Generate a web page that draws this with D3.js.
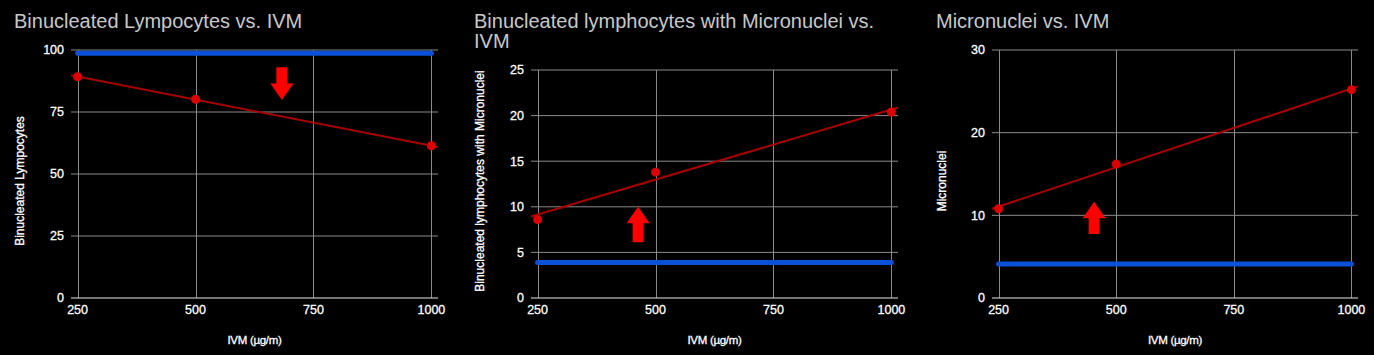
<!DOCTYPE html>
<html>
<head>
<meta charset="utf-8">
<script src="https://cdn.jsdelivr.net/npm/d3@7"></script>
<style>
  html, body { margin: 0; padding: 0; background: #000; }
  svg { display: block; }
  text { font-family: "Liberation Sans", Arial, sans-serif; }
</style>
</head>
<body>
<script>
// ---- data ----
const doses = [250, 500, 1000];
const xTicks = [250, 500, 750, 1000];

const titles = [
  ["Binucleated Lympocytes vs. IVM"],
  ["Binucleated lymphocytes with Micronuclei vs.", "IVM"],
  ["Micronuclei vs. IVM"]
];
const yLabels = ["Binucleated Lympocytes", "Binucleated lymphocytes with Micronuclei", "Micronuclei"];
const xLabel = "IVM (µg/m)";

const binucleated = [89.2, 80.1, 61.4];
const binucleatedControl = 98.7;
const bnMicronuclei = [8.6, 13.8, 20.4];
const bnMicronucleiControl = 3.9;
const micronuclei = [10.8, 16.2, 25.2];
const micronucleiControl = 4.1;

const yTicks1 = [0, 25, 50, 75, 100];
const yTicks2 = [0, 5, 10, 15, 20, 25];
const yTicks3 = [0, 10, 20, 30];

// arrow annotations (data units): x, from value, to value (tip)
const arrow1 = [683, 93, 79.8];
const arrow2 = [463, 6.1, 10.0];
const arrow3 = [453, 7.74, 11.65];

// ---- layout ----
const W = 1374, H = 355;
const panels = [
  { title: titles[0], ylab: yLabels[0], values: binucleated, control: binucleatedControl, yTicks: yTicks1, yMax: 100,
    xr: [71, 438], yTop: 50, titleX: 14, ylabX: 24, arrow: arrow1 },
  { title: titles[1], ylab: yLabels[1], values: bnMicronuclei, control: bnMicronucleiControl, yTicks: yTicks2, yMax: 25,
    xr: [531, 898], yTop: 70, titleX: 474, ylabX: 484, arrow: arrow2 },
  { title: titles[2], ylab: yLabels[2], values: micronuclei, control: micronucleiControl, yTicks: yTicks3, yMax: 30,
    xr: [992, 1358], yTop: 50, titleX: 936, ylabX: 946, arrow: arrow3 }
];
const yBottom = 298;
const xDomain = [236, 1014];

const svg = d3.select("body").append("svg").attr("width", W).attr("height", H);
svg.append("rect").attr("width", W).attr("height", H).attr("fill", "#000");

const defs = svg.append("defs");
defs.append("filter").attr("id", "soft").append("feGaussianBlur").attr("stdDeviation", 0.7);

function regression(xs, ys) {
  const n = xs.length;
  const mx = d3.mean(xs), my = d3.mean(ys);
  let sxy = 0, sxx = 0;
  for (let i = 0; i < n; i++) { sxy += (xs[i] - mx) * (ys[i] - my); sxx += (xs[i] - mx) ** 2; }
  const b = sxy / sxx;
  return x => my + b * (x - mx);
}

panels.forEach(p => {
  const g = svg.append("g");
  const x = d3.scaleLinear().domain(xDomain).range(p.xr);
  const y = d3.scaleLinear().domain([0, p.yMax]).range([yBottom, p.yTop]);

  // title
  const t = g.append("text").attr("x", p.titleX).attr("y", 28)
    .attr("fill", "#c8c8c8").attr("font-size", 20);
  p.title.forEach((line, i) => {
    t.append("tspan").attr("x", p.titleX).attr("dy", i === 0 ? 0 : 20).text(line);
  });

  // horizontal gridlines
  g.selectAll(".hg").data(p.yTicks.filter(v => v !== 0)).join("line")
    .attr("x1", p.xr[0]).attr("x2", p.xr[1])
    .attr("y1", d => y(d)).attr("y2", d => y(d))
    .attr("stroke", "#8a8a8a").attr("stroke-width", 1);
  // vertical gridlines
  g.selectAll(".vg").data(xTicks).join("line")
    .attr("x1", d => Math.round(x(d)) + 0.5).attr("x2", d => Math.round(x(d)) + 0.5)
    .attr("y1", y(p.yMax)).attr("y2", yBottom)
    .attr("stroke", "#8a8a8a").attr("stroke-width", 1);
  // baseline
  g.append("line").attr("x1", p.xr[0]).attr("x2", p.xr[1])
    .attr("y1", y(0)).attr("y2", y(0)).attr("stroke", "#e6e6e6").attr("stroke-width", 1.2);

  // y tick labels
  g.selectAll(".yt").data(p.yTicks).join("text")
    .attr("x", p.xr[0] - 7).attr("y", d => y(d)).attr("dy", "0.35em")
    .attr("text-anchor", "end").attr("fill", "#fff").attr("font-size", 12.5)
    .attr("stroke", "#fff").attr("stroke-width", 0.3)
    .text(d => d);
  // x tick labels
  g.selectAll(".xt").data(xTicks).join("text")
    .attr("x", d => x(d)).attr("y", 314)
    .attr("text-anchor", "middle").attr("fill", "#fff").attr("font-size", 12.5)
    .attr("stroke", "#fff").attr("stroke-width", 0.3)
    .text(d => d);

  // axis titles
  g.append("text").attr("x", (p.xr[0] + p.xr[1]) / 2).attr("y", 344)
    .attr("text-anchor", "middle").attr("fill", "#fff").attr("font-size", 11.5)
    .attr("stroke", "#fff").attr("stroke-width", 0.3)
    .attr("letter-spacing", -0.3).text(xLabel);
  g.append("text").attr("transform", `translate(${p.ylabX},181) rotate(-90)`)
    .attr("text-anchor", "middle").attr("fill", "#fff").attr("font-size", 12)
    .attr("stroke", "#fff").attr("stroke-width", 0.3)
    .text(p.ylab);

  // control line
  g.append("line").attr("x1", x(doses[0])).attr("x2", x(doses[doses.length - 1]))
    .attr("y1", y(p.control)).attr("y2", y(p.control))
    .attr("stroke", "#0b50d8").attr("stroke-width", 5).attr("stroke-linecap", "round");

  // trend line
  const f = regression(doses, p.values);
  g.append("line").attr("x1", x(xDomain[0])).attr("x2", x(xDomain[1]))
    .attr("y1", y(f(xDomain[0]))).attr("y2", y(f(xDomain[1])))
    .attr("stroke", "#a80000").attr("stroke-width", 2);

  // points
  g.selectAll(".pt").data(doses).join("circle")
    .attr("cx", d => x(d)).attr("cy", (d, i) => y(p.values[i])).attr("r", 4.5)
    .attr("fill", "#dd0000");

  // arrow
  const [ax, a0, a1] = p.arrow;
  const cx = x(ax), yFrom = y(a0), yTip = y(a1);
  const dir = Math.sign(yTip - yFrom);
  const headH = 16.5, headW = 11.5, shaftW = 5.5;
  const yBase = yTip - dir * headH;
  const path = d3.path();
  path.moveTo(cx - shaftW, yFrom);
  path.lineTo(cx + shaftW, yFrom);
  path.lineTo(cx + shaftW, yBase);
  path.lineTo(cx + headW, yBase);
  path.lineTo(cx, yTip);
  path.lineTo(cx - headW, yBase);
  path.lineTo(cx - shaftW, yBase);
  path.closePath();
  g.append("path").attr("d", path.toString()).attr("fill", "#ff0000").attr("filter", "url(#soft)");
});
</script>
</body>
</html>
